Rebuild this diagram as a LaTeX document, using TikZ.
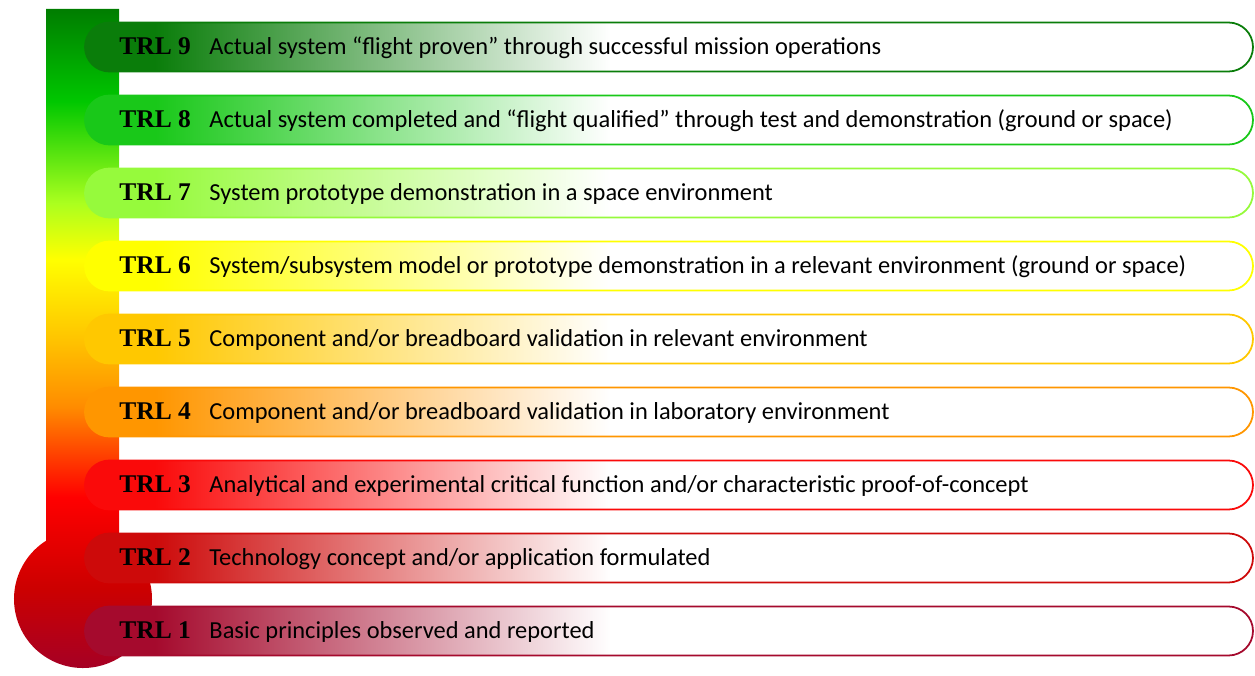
\documentclass[tikz,border=0pt]{standalone}
\usepackage{fontspec}
\setmainfont{Carlito}
\newfontfamily\trlfont{Liberation Serif}
\usetikzlibrary{shapes.misc}
\usetikzlibrary{calc}
\definecolor{trlnine}{RGB}{10,125,10}
\definecolor{trleight}{RGB}{25,200,25}
\definecolor{trlseven}{RGB}{150,250,60}
\definecolor{trlsix}{RGB}{255,255,0}
\definecolor{trlfive}{RGB}{255,200,0}
\definecolor{trlfour}{RGB}{255,150,0}
\definecolor{trlthree}{RGB}{250,10,10}
\definecolor{trltwo}{RGB}{205,10,10}
\definecolor{trlone}{RGB}{165,10,45}
\colorlet{trlcol}{trlnine}
\pgfdeclareverticalshading{thermo}{100bp}{rgb(0bp)=(0.63,0,0.16); rgb(25bp)=(0.63,0,0.16); rgb(31.7bp)=(0.80,0,0); rgb(38.5bp)=(1,0,0); rgb(41.5bp)=(1,0.24,0); rgb(45.3bp)=(1,0.55,0); rgb(50.6bp)=(1,0.78,0); rgb(56.3bp)=(1,1,0); rgb(60.5bp)=(0.67,1,0.12); rgb(68.1bp)=(0,0.78,0); rgb(75bp)=(0,0.49,0); rgb(100bp)=(0,0.49,0)}
\pgfdeclarehorizontalshading[trlcol]{fade}{100bp}{color(0bp)=(trlcol); color(25bp)=(trlcol); color(28bp)=(trlcol); color(47.5bp)=(white); color(100bp)=(white)}

\begin{document}
\begin{tikzpicture}

\tikzstyle{pill} = [rounded rectangle, draw=#1, line width=1pt,
/utils/exec={\colorlet{trlcol}{#1}}, shade, shading=fade,
minimum width=23.36cm, minimum height=0.98cm, inner sep=0]
\tikzstyle{trl} = [font=\trlfont\bfseries\fontsize{14.5}{17}\selectfont, anchor=base west, inner sep=0]
\tikzstyle{desc} = [font=\fontsize{13.9}{16}\selectfont, anchor=base west, inner sep=0]

\useasboundingbox (0,0) rectangle (25.1,13.5);

% thermometer
\shade[shading=thermo] (0.92,13.32) -- (2.38,13.32) -- (2.38,2.697)
  arc[start angle=58.55, end angle=-237.58, radius=1.38] -- cycle;

% levels
\node[pill=trlnine] (p9) at (13.38,12.56) {};
\node[trl] (t9) at ($(p9.west)+(0.7,-0.15)$) {TRL 9};
\node[desc] (d9) at ($(p9.west)+(2.5,-0.15)$) {Actual system “flight proven” through successful mission operations};

\node[pill=trleight] (p8) at (13.38,11.10) {};
\node[trl] (t8) at ($(p8.west)+(0.7,-0.15)$) {TRL 8};
\node[desc] (d8) at ($(p8.west)+(2.5,-0.15)$) {Actual system completed and “flight qualified” through test and demonstration (ground or space)};

\node[pill=trlseven] (p7) at (13.38,9.64) {};
\node[trl] (t7) at ($(p7.west)+(0.7,-0.15)$) {TRL 7};
\node[desc] (d7) at ($(p7.west)+(2.5,-0.15)$) {System prototype demonstration in a space environment};

\node[pill=trlsix] (p6) at (13.38,8.18) {};
\node[trl] (t6) at ($(p6.west)+(0.7,-0.15)$) {TRL 6};
\node[desc] (d6) at ($(p6.west)+(2.5,-0.15)$) {System/subsystem model or prototype demonstration in a relevant environment (ground or space)};

\node[pill=trlfive] (p5) at (13.38,6.72) {};
\node[trl] (t5) at ($(p5.west)+(0.7,-0.15)$) {TRL 5};
\node[desc] (d5) at ($(p5.west)+(2.5,-0.15)$) {Component and/or breadboard validation in relevant environment};

\node[pill=trlfour] (p4) at (13.38,5.26) {};
\node[trl] (t4) at ($(p4.west)+(0.7,-0.15)$) {TRL 4};
\node[desc] (d4) at ($(p4.west)+(2.5,-0.15)$) {Component and/or breadboard validation in laboratory environment};

\node[pill=trlthree] (p3) at (13.38,3.80) {};
\node[trl] (t3) at ($(p3.west)+(0.7,-0.15)$) {TRL 3};
\node[desc] (d3) at ($(p3.west)+(2.5,-0.15)$) {Analytical and experimental critical function and/or characteristic proof-of-concept};

\node[pill=trltwo] (p2) at (13.38,2.34) {};
\node[trl] (t2) at ($(p2.west)+(0.7,-0.15)$) {TRL 2};
\node[desc] (d2) at ($(p2.west)+(2.5,-0.15)$) {Technology concept and/or application formulated};

\node[pill=trlone] (p1) at (13.38,0.88) {};
\node[trl] (t1) at ($(p1.west)+(0.7,-0.15)$) {TRL 1};
\node[desc] (d1) at ($(p1.west)+(2.5,-0.15)$) {Basic principles observed and reported};

\end{tikzpicture}
\end{document}
